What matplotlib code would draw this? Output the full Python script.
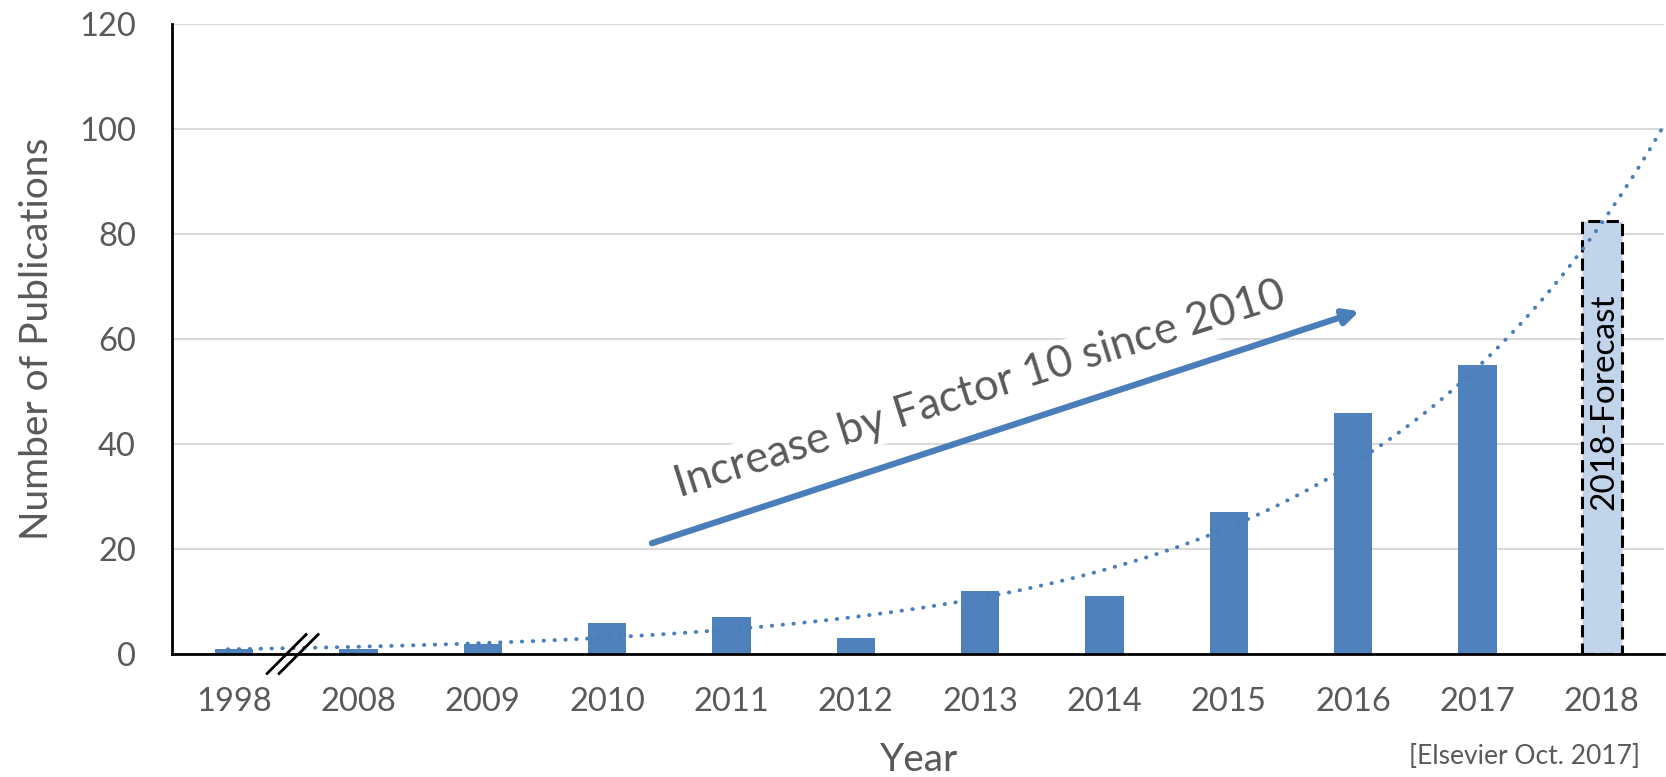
import numpy as np
import matplotlib
matplotlib.use("Agg")
import matplotlib.pyplot as plt
from matplotlib.lines import Line2D

plt.rcParams['font.family'] = ['Lato', 'DejaVu Sans']

years = ["1998", "2008", "2009", "2010", "2011", "2012", "2013", "2014",
         "2015", "2016", "2017", "2018"]
publications = [1, 1, 2, 6, 7, 3, 12, 11, 27, 46, 55]
forecast_value = 82.5
yticks = [0, 20, 40, 60, 80, 100, 120]

bar_color = '#4f81bd'
grey = '#595959'

W, H = 1666, 777
fig = plt.figure(figsize=(W / 100, H / 100), dpi=100)
ax = fig.add_axes([172 / W, 1 - 654 / H, (1664 - 172) / W, (654 - 24) / H])

x = np.arange(len(years))
ax.bar(x[:len(publications)], publications, width=0.31, color=bar_color, zorder=2)
ax.bar(x[-1], forecast_value, width=0.32, facecolor='#c2d4ea', edgecolor='black',
       linestyle=(0, (4, 2)), linewidth=2.2, zorder=2)
ax.text(x[-1] + 0.02, 48, "2018-Forecast", rotation=90, ha='center', va='center',
        fontsize=24, color='black', zorder=4)

# exponential trendline fitted to the actual counts
coef = np.polyfit(x[:len(publications)], np.log(publications), 1)
xt = np.linspace(-0.05, 11.7, 300)
ax.plot(xt, np.exp(np.polyval(coef, xt)), color='#4a7ebb', linewidth=2.8,
        linestyle=(0, (0.1, 2.7)), dash_capstyle='round', zorder=3)

ax.set_xlim(-0.5, 11.5)
ax.set_ylim(0, 120)
ax.set_yticks(yticks)
ax.set_xticks(x)
ax.set_xticklabels(years)
ax.tick_params(axis='both', length=0, labelsize=23.5, labelcolor=grey)
ax.tick_params(axis='y', pad=26)
ax.tick_params(axis='x', pad=24)
ax.grid(axis='y', color='#d9d9d9', linewidth=1.5, zorder=0)
ax.set_axisbelow(True)
for s in ['top', 'right']:
    ax.spines[s].set_visible(False)
for s in ['left', 'bottom']:
    ax.spines[s].set_linewidth(2)
    ax.spines[s].set_color('black')
    ax.spines[s].set_zorder(5)

ax.set_ylabel("Number of Publications", fontsize=28, color=grey, labelpad=17)
fig.text(919 / W, 1 - 760 / H, "Year", fontsize=28, color=grey, ha='center', va='center')
fig.text(1640 / W, 1 - 757 / H, "[Elsevier Oct. 2017]", fontsize=19, color=grey,
         ha='right', va='center')

# annotation arrow and text
ax.annotate("", xy=(9.05, 65.3), xytext=(3.36, 21.1),
            arrowprops=dict(arrowstyle='-|>,head_length=0.9,head_width=0.45',
                            color='#4a7ebb', lw=4.5, shrinkA=0, shrinkB=0),
            zorder=4)
ax.text(6.0, 50.3, "Increase by Factor 10 since 2010", rotation=17.5,
        rotation_mode='anchor', ha='center', va='center', fontsize=31.5, color=grey,
        bbox=dict(facecolor='white', edgecolor='none', pad=2), zorder=3)

# axis break marks
fig.canvas.draw()
cx, cy = ax.transData.transform((0.47, 0))
for off in (-6, 6):
    fig.add_artist(Line2D([cx + off - 19.5, cx + off + 19.5], [cy - 19.5, cy + 19.5],
                          transform=None, color='black', linewidth=2, zorder=6))

fig.savefig("out.png", dpi=100)
